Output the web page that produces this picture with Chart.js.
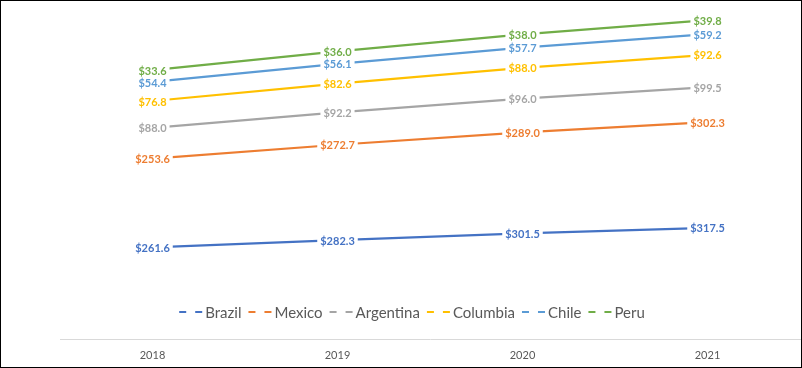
<!DOCTYPE html>
<html>
<head>
<meta charset="utf-8">
<script src="https://cdn.jsdelivr.net/npm/chart.js@4/dist/chart.umd.min.js"></script>
<style>
  html, body { margin: 0; padding: 0; background: #fff; }
  #wrap { width: 802px; height: 368px; position: relative; }
</style>
</head>
<body>
<div id="wrap"><canvas id="chart" width="802" height="368"></canvas></div>
<script>
// años y valores por país (miles de millones USD)
const years = ['2018', '2019', '2020', '2021'];
const brazil = [261.6, 282.3, 301.5, 317.5];
const mexico = [253.6, 272.7, 289.0, 302.3];
const argentina = [88.0, 92.2, 96.0, 99.5];
const columbia = [76.8, 82.6, 88.0, 92.6];
const chile = [54.4, 56.1, 57.7, 59.2];
const peru = [33.6, 36.0, 38.0, 39.8];

const FONT = 'Lato, "Open Sans", sans-serif';

function serie(label, data, color) {
    return {
        label: label,
        data: data,
        borderColor: color,
        backgroundColor: color,
        borderWidth: 2.25,
        pointRadius: 0,
        tension: 0,
        fill: false
    };
}

// etiquetas de datos con fondo blanco
const dataLabels = {
    id: 'dataLabels',
    afterDatasetsDraw(chart) {
        const ctx = chart.ctx;
        ctx.save();
        ctx.font = 'bold 11px ' + FONT;
        ctx.textAlign = 'center';
        ctx.textBaseline = 'middle';
        chart.data.datasets.forEach((ds, i) => {
            const meta = chart.getDatasetMeta(i);
            meta.data.forEach((pt, j) => {
                const txt = '$' + ds.data[j].toFixed(1);
                const w = ctx.measureText(txt).width + 6;
                ctx.fillStyle = '#fff';
                ctx.fillRect(pt.x - w / 2, pt.y - 7, w, 14);
                ctx.fillStyle = ds.borderColor;
                ctx.fillText(txt, pt.x, pt.y + 1);
            });
        });
        ctx.restore();
    }
};

// leyenda dentro del área, con símbolo de guiones
const legendInside = {
    id: 'legendInside',
    afterDraw(chart) {
        const ctx = chart.ctx;
        ctx.save();
        ctx.font = '15px ' + FONT;
        ctx.textBaseline = 'middle';
        const items = chart.data.datasets.map(ds => ({
            label: ds.label,
            color: ds.borderColor,
            w: 26 + ctx.measureText(ds.label).width
        }));
        const gap = 7;
        const total = items.reduce((s, it) => s + it.w, 0) + gap * (items.length - 1);
        let x = 412 - total / 2;
        const y = 312;
        items.forEach(it => {
            ctx.strokeStyle = it.color;
            ctx.lineWidth = 2;
            ctx.beginPath();
            ctx.moveTo(x, y); ctx.lineTo(x + 7, y);
            ctx.moveTo(x + 16, y); ctx.lineTo(x + 23, y);
            ctx.stroke();
            ctx.fillStyle = '#595959';
            ctx.fillText(it.label, x + 26, y + 1);
            x += it.w + gap;
        });
        // marco negro
        ctx.strokeStyle = '#000';
        ctx.lineWidth = 1;
        ctx.strokeRect(0.5, 0.5, chart.width - 1, chart.height - 1);
        ctx.restore();
    }
};

const ctx = document.getElementById('chart').getContext('2d');
new Chart(ctx, {
    type: 'line',
    data: {
        labels: years,
        datasets: [
            serie('Brazil', brazil, '#4472C4'),
            serie('Mexico', mexico, '#ED7D31'),
            serie('Argentina', argentina, '#A5A5A5'),
            serie('Columbia', columbia, '#FFC000'),
            serie('Chile', chile, '#5B9BD5'),
            serie('Peru', peru, '#70AD47')
        ]
    },
    options: {
        responsive: false,
        animation: false,
        layout: { padding: { left: 60, right: 2, top: 3, bottom: 0 } },
        plugins: {
            legend: { display: false },
            tooltip: { enabled: false }
        },
        scales: {
            x: {
                offset: true,
                grid: { display: false, drawTicks: false },
                border: { display: true, color: '#D9D9D9', width: 1 },
                ticks: { color: '#595959', font: { family: FONT, size: 11 }, padding: 10 },
                afterFit(scale) { scale.height = 29; }
            },
            y: {
                display: false,
                stacked: true,
                min: 0,
                max: 960
            }
        }
    },
    plugins: [dataLabels, legendInside]
});
</script>
</body>
</html>
